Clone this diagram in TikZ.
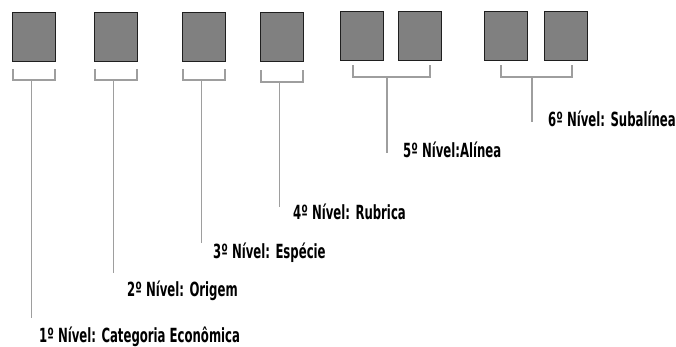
\documentclass[tikz,border=0pt]{standalone}
\usepackage{fontspec}
\setmainfont{DejaVu Sans}[FakeStretch=0.6]
\usepackage{tikz}
\usetikzlibrary{positioning}
\tikzstyle{grayBox} = [
    rectangle,
    draw=black!88,
    fill=black!50,
    line width=1.4pt,
    minimum width=43pt,
    minimum height=49pt,
    inner sep=0pt
    ]
\tikzstyle{bracketLine} = [
    draw=black!38,
    line width=1.7pt
    ]
\tikzstyle{levelLabel} = [
    anchor=base west,
    inner sep=0pt,
    font=\fontsize{19.5}{19.5}\selectfont\bfseries
    ]

\begin{document}
\begin{tikzpicture}[x=1pt,y=-1pt]
      \useasboundingbox (0,0) rectangle (676,347);
      % the code digits
      \node[grayBox] at (34,37) (b1) {};
      \node[grayBox] at (116,37) (b2) {};
      \node[grayBox] at (204,37) (b3) {};
      \node[grayBox] at (282,37) (b4) {};
      \node[grayBox] at (362,36) (b5) {};
      \node[grayBox] at (420,36) (b6) {};
      \node[grayBox] at (506,36) (b7) {};
      \node[grayBox] at (566,36) (b8) {};
      % brackets under the digits
      \foreach \i in {1,2,3}
        \draw[bracketLine] ([shift={(1,7)}]b\i.south west) |- ([shift={(-1,18)}]b\i.south east)
          coordinate[pos=0.72] (m\i) -- ([shift={(-1,7)}]b\i.south east);
      \draw[bracketLine] ([shift={(1,8)}]b4.south west) |- ([shift={(-1,20)}]b4.south east)
          coordinate[pos=0.72] (m4) -- ([shift={(-1,8)}]b4.south east);
      \draw[bracketLine] ([shift={(13,4)}]b5.south west) |- ([shift={(-12,16)}]b6.south east)
          coordinate[pos=0.72] (m5) -- ([shift={(-12,4)}]b6.south east);
      \draw[bracketLine] ([shift={(17,4)}]b7.south west) |- ([shift={(-16,16)}]b8.south east)
          coordinate[pos=0.72] (m6) -- ([shift={(-16,4)}]b8.south east);
      % level labels
      \node[levelLabel] at (39,342) (l1) {1º Nível: Categoria Econômica};
      \node[levelLabel] at (127,296) (l2) {2º Nível: Origem};
      \node[levelLabel] at (213,258) (l3) {3º Nível: Espécie};
      \node[levelLabel] at (293,219) (l4) {4º Nível: Rubrica};
      \node[levelLabel] at (403,158) (l5) {5º Nível:Alínea};
      \node[levelLabel] at (548,127) (l6) {6º Nível: Subalínea};
      % stems down to the labels
      \foreach \i/\e in {1/318,2/273,3/243,4/207,5/153,6/122} {
        \coordinate (e\i) at (m\i |- 0,\e);
        \draw[bracketLine] (m\i) -- (e\i);
      }
\end{tikzpicture}
\end{document}
